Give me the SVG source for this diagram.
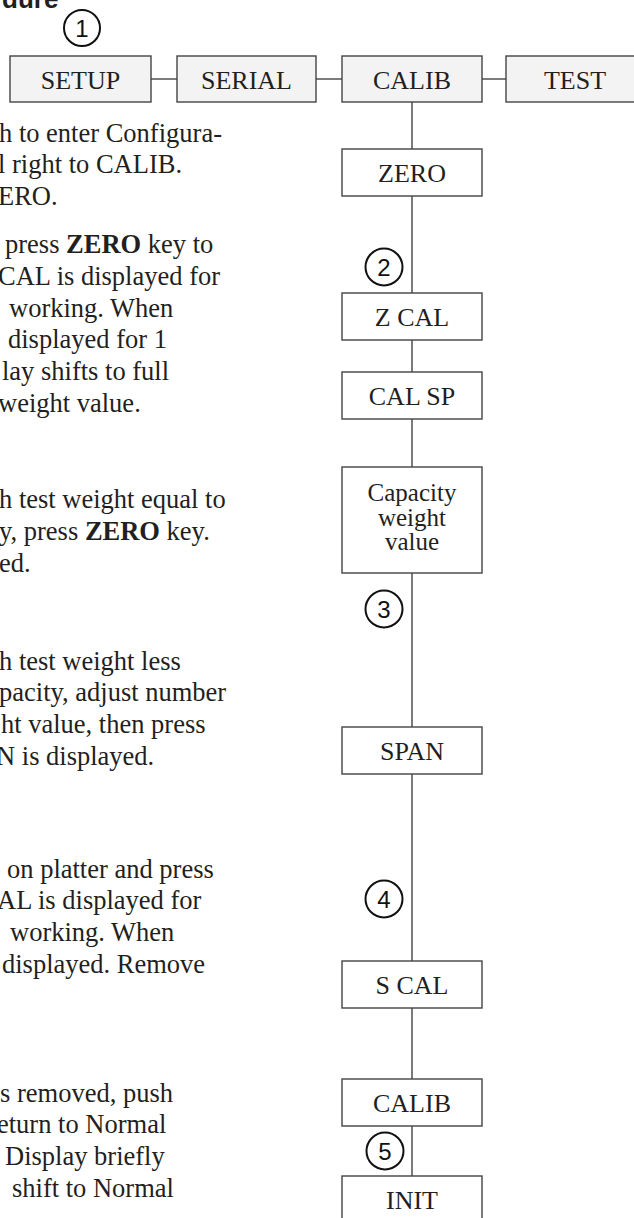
<svg xmlns="http://www.w3.org/2000/svg" width="634" height="1218" viewBox="0 0 634 1218">
<style>
.t{font-family:"Liberation Serif","Times New Roman",serif;font-size:26.5px;fill:#231f20}
.b{font-weight:bold}
.lbl{font-family:"Liberation Serif","Times New Roman",serif;font-size:26px;fill:#231f20;text-anchor:middle}
.cap{font-size:25px}
.top{fill:#f3f3f3;stroke:#444;stroke-width:1.4}
.box{fill:#fff;stroke:#444;stroke-width:1.4}
.ln{stroke:#444;stroke-width:1.4;fill:none}
.c{fill:#fff;stroke:#111;stroke-width:2}
.n{font-family:"Liberation Sans",Arial,sans-serif;font-size:24px;fill:#111;text-anchor:middle}
.h{font-family:"Liberation Sans",Arial,sans-serif;font-size:26px;font-weight:bold;fill:#231f20}
</style>
<rect width="634" height="1218" fill="#fff"/>
<text class="h" x="2" y="8">dure</text>

<g id="connectors">
<line class="ln" x1="151" y1="79" x2="177" y2="79"/>
<line class="ln" x1="316" y1="79" x2="342" y2="79"/>
<line class="ln" x1="482" y1="79" x2="506" y2="79"/>
<line class="ln" x1="412" y1="102" x2="412" y2="1176"/>
</g>

<g id="step1"><circle class="c" cx="82" cy="28" r="18"/><text class="n" x="82" y="37">1</text></g>
<g id="setup"><rect class="top" x="10" y="56" width="141" height="46"/><text class="lbl" x="80.5" y="89">SETUP</text></g>
<g id="serial"><rect class="top" x="177" y="56" width="139" height="46"/><text class="lbl" x="246.5" y="89">SERIAL</text></g>
<g id="calib-top"><rect class="top" x="342" y="56" width="140" height="46"/><text class="lbl" x="412" y="89">CALIB</text></g>
<g id="test"><rect class="top" x="506" y="56" width="145" height="46"/><text class="lbl" x="575" y="89">TEST</text></g>

<g id="zero"><rect class="box" x="342" y="149" width="140" height="47"/><text class="lbl" x="412" y="182">ZERO</text></g>
<g id="step2"><circle class="c" cx="384" cy="267" r="18.5"/><text class="n" x="384" y="276">2</text></g>
<g id="zcal"><rect class="box" x="342" y="293" width="140" height="47"/><text class="lbl" x="412" y="326">Z CAL</text></g>
<g id="calsp"><rect class="box" x="342" y="372" width="140" height="47"/><text class="lbl" x="412" y="405">CAL SP</text></g>
<g id="capacity"><rect class="box" x="342" y="467" width="140" height="106"/><text class="lbl cap" x="412" y="501">Capacity</text><text class="lbl cap" x="412" y="525.5">weight</text><text class="lbl cap" x="412" y="550">value</text></g>
<g id="step3"><circle class="c" cx="384" cy="609" r="18.5"/><text class="n" x="384" y="618">3</text></g>
<g id="span"><rect class="box" x="342" y="727" width="140" height="47"/><text class="lbl" x="412" y="760">SPAN</text></g>
<g id="step4"><circle class="c" cx="384" cy="899" r="18.5"/><text class="n" x="384" y="908">4</text></g>
<g id="scal"><rect class="box" x="342" y="961" width="140" height="47"/><text class="lbl" x="412" y="994">S CAL</text></g>
<g id="calib"><rect class="box" x="342" y="1079" width="140" height="47"/><text class="lbl" x="412" y="1112">CALIB</text></g>
<g id="step5"><circle class="c" cx="385" cy="1151" r="18.5"/><text class="n" x="385" y="1160">5</text></g>
<g id="init"><rect class="box" x="342" y="1176" width="140" height="60"/><text class="lbl" x="412" y="1209">INIT</text></g>

<g id="text">
<text class="t" x="-1" y="142">h to enter Configura-</text>
<text class="t" x="-2" y="173">l right to CALIB.</text>
<text class="t" x="-2" y="205">ERO.</text>
<text class="t" x="5" y="253">press <tspan class="b">ZERO</tspan> key to</text>
<text class="t" x="-2" y="285">CAL is displayed for</text>
<text class="t" x="9" y="317">working. When</text>
<text class="t" x="8" y="348">displayed for 1</text>
<text class="t" x="2" y="380">lay shifts to full</text>
<text class="t" x="-2" y="412">weight value.</text>
<text class="t" x="-1" y="508">h test weight equal to</text>
<text class="t" x="-1" y="540">y, press <tspan class="b">ZERO</tspan> key.</text>
<text class="t" x="-1" y="572">ed.</text>
<text class="t" x="-1" y="670">h test weight less</text>
<text class="t" x="-1" y="701">pacity, adjust number</text>
<text class="t" x="1" y="733">ht value, then press</text>
<text class="t" x="-4" y="765">N is displayed.</text>
<text class="t" x="7" y="878">on platter and press</text>
<text class="t" x="-3" y="909">AL is displayed for</text>
<text class="t" x="10" y="941">working. When</text>
<text class="t" x="2" y="973">displayed. Remove</text>
<text class="t" x="0" y="1102">s removed, push</text>
<text class="t" x="-3" y="1133">eturn to Normal</text>
<text class="t" x="5" y="1165">Display briefly</text>
<text class="t" x="12" y="1197">shift to Normal</text>
</g>
</svg>
